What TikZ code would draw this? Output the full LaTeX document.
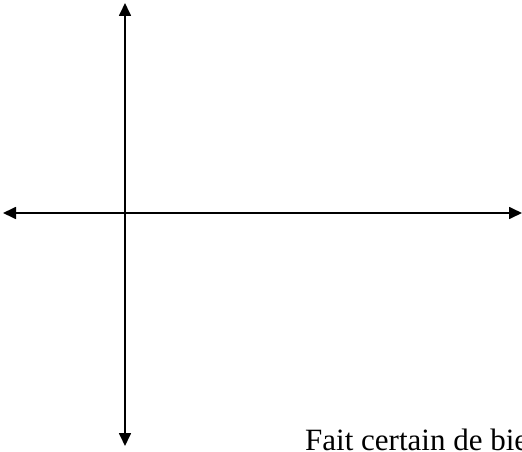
\documentclass[tikz,border=0pt]{standalone}
\usepackage{fontspec}
\setmainfont{Liberation Serif}
\usetikzlibrary{arrows.meta}
\begin{document}
\begin{tikzpicture}[x=1pt,y=1pt,
  axis/.style={line width=1.7pt,{Triangle[length=13pt,width=12pt]}-{Triangle[length=13pt,width=12pt]}},
  label/.style={inner sep=0pt,anchor=base west,font=\fontsize{31}{36}\selectfont}]
\clip (0,0) rectangle (522,451);
\useasboundingbox (0,0) rectangle (522,451);
\coordinate (top) at (125,448);
\coordinate (bottom) at (125,5);
\coordinate (left) at (3,238);
\coordinate (right) at (522,238);
\draw[axis] (bottom) -- (top);
\draw[axis] (left) -- (right);
\node[label] (txt) at (305,1) {Fait certain de bien};
\end{tikzpicture}
\end{document}
